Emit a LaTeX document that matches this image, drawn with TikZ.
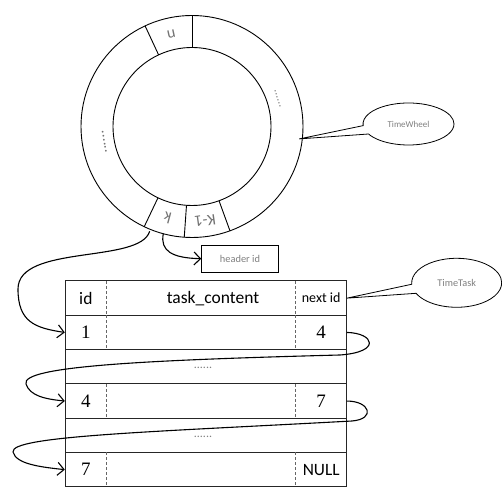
\documentclass[tikz,border=0pt]{standalone}
\usepackage{fontspec}
\setmainfont{Carlito}
\newfontfamily\numfont{Liberation Serif}
\usetikzlibrary{shapes.callouts,arrows.meta}

\begin{document}
\begin{tikzpicture}[
    x=1pt, y=1pt,
    wheel/.style={line width=0.9pt},
    grid/.style={line width=1pt, draw=black!85},
    sep/.style={line width=0.9pt, draw=black!60, dash pattern=on 3pt off 2pt},
    slot/.style={text=black!55, inner sep=0, font=\fontsize{16}{16}\selectfont},
    hint/.style={text=black!50, inner sep=0, font=\fontsize{12}{12}\selectfont},
    bubble/.style={
        ellipse callout,
        draw,
        line width=0.8pt,
        text=black!50,
        inner sep=0,
        callout pointer arc=24,
        minimum width=91pt,
        minimum height=42pt
    },
    idcell/.style={minimum width=41.7pt, minimum height=34.3pt, inner sep=0},
    nxcell/.style={minimum width=51pt, minimum height=34.3pt, inner sep=0},
    num/.style={font=\numfont\fontsize{19}{19}\selectfont},
    head/.style={font=\fontsize{17.5}{18}\selectfont},
    link/.style={line width=1.1pt, -{Straight Barb[length=6.5pt,width=13pt,line width=1.1pt]}}
]
\useasboundingbox (0,0) rectangle (502,494);

% wheel, angles counted counter-clockwise from the right
\begin{scope}[shift={(192,367.5)}]
    \draw[wheel] (0,0) circle (111);
    \draw[wheel] (0,0) circle (79);
    \foreach \a in {90,115,244.5,266,290}{
        \draw[wheel] (\a:79) -- (\a:111);
    }

    \node[slot, rotate=192] (slotn)  at (102.5:95) {n};
    \node[slot, rotate=165] (slotk)  at (255:95)   {k};
    \node[slot, rotate=188] (slotk1) at (278:95)   {K-1};
    \node[hint, rotate=108] (gapr)   at (18:90)    {......};
    \node[slot, rotate=280, font=\fontsize{15}{15}\selectfont] (gapl) at (190:89) {......};

    \coordinate (kout)      at (248:113);
    \coordinate (kmid)      at (255:111);
    \coordinate (wheeltip)  at (-6.6:108);
\end{scope}

\node[draw, line width=0.9pt, minimum width=76.6pt, minimum height=27.3pt,
    text=black!50, font=\fontsize{10.4}{11}\selectfont] (hdr) at (240,235.3) {header id};

% table, row 0 holds the titles
\draw[grid] (65,7.2) rectangle (346.7,213);
\foreach \n in {1,...,5}{
    \draw[grid] (65,{213-34.3*\n}) -- (346.7,{213-34.3*\n});
}
\foreach \n in {0,1,3,5}{
    \draw[sep] (106.7,{213-34.3*\n}) -- ++(0,-34.3);
    \draw[sep] (295.7,{213-34.3*\n}) -- ++(0,-34.3);
}

\node[idcell, head] (idh) at (85.85,195.85) {id};
\node[head] (contenth) at (213,195.85) {task\_content};
\node[nxcell, font=\fontsize{14}{14}\selectfont] (nxh) at (321.2,195.85) {next id};

\foreach \n/\a/\b in {
    1/1/4,
    3/4/7,
    5/7/{\normalfont\fontsize{17.3}{18}\selectfont NULL}
}{
    \node[idcell, num] (id\a) at (85.85,{195.85-34.3*\n}) {\a};
    \node[nxcell, num] (nx\a) at (321.2,{195.85-34.3*\n}) {\b};
}
\foreach \n in {2,4}{
    \node[hint] (gap\n) at (203,{194.5-34.3*\n}) {......};
}

\node[bubble, callout absolute pointer={(wheeltip)},
    font=\fontsize{9}{9}\selectfont] (wheeltag) at (408.5,370) {TimeWheel};
\node[bubble, callout absolute pointer={(nxh.east)}, callout pointer arc=22,
    minimum width=90pt, minimum height=49pt,
    font=\fontsize{10.3}{10}\selectfont] (tasktag) at (456.7,211.2) {TimeTask};

% links
\coordinate (turn1) at (18,205);
\coordinate (back1) at (340,139);
\coordinate (turn2) at (26,110);
\coordinate (back2) at (352,73);
\coordinate (turn3) at (13,42);

\draw[link] (kout) .. controls (140,230) and (18,250) .. (turn1)
    .. controls (18,172) and (35,166) .. (id1.west);
\draw[link] (kmid) .. controls (160,243) and (172,236) .. (hdr.west);
\draw[link] (nx1.east) .. controls (374,161) and (382,142) .. (back1)
    .. controls (150,134) and (20,128) .. (turn2)
    .. controls (30,98) and (45,95) .. (id4.west);
\draw[link] (nx4.east) .. controls (370,93) and (376,75) .. (back2)
    .. controls (150,62) and (10,58) .. (turn3)
    .. controls (16,30) and (40,27) .. (id7.west);
\end{tikzpicture}
\end{document}
